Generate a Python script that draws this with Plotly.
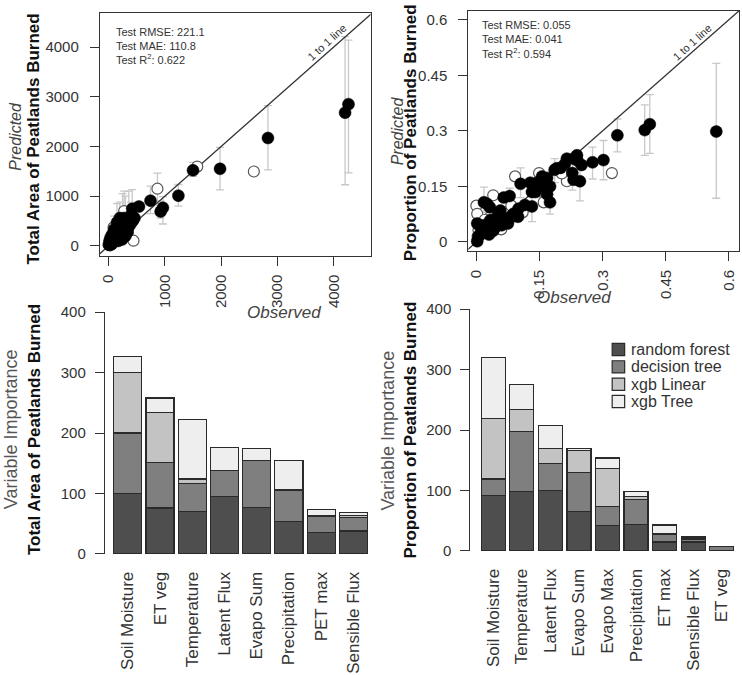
import math
import plotly.graph_objects as go

W, H = 742, 675
FONT = "Liberation Sans, Arial, sans-serif"
TXT = "#333333"

def px(x):
    return x / W

def py(y):
    return 1 - y / H

# ---------------- data: total area (top-left) ----------------
tl_fill_obs = [4200, 4260, 2830, 1980, 1500, 1240, 965, 925, 745, 540, 420,
               10, 30, 50, 60, 80, 90, 110, 120, 140, 150, 170, 180, 200, 210, 230,
               250, 260, 280, 300, 320, 340, 360, 380, 400, 430, 460, 200, 150, 100,
               70, 40, 20, 240, 300, 350]
tl_fill_pred = [2680, 2850, 2170, 1550, 1520, 1010, 765, 690, 910, 790, 745,
                20, 60, 120, 40, 180, 90, 250, 140, 200, 320, 100, 260, 380, 170, 300,
                450, 220, 560, 350, 470, 280, 520, 420, 610, 500, 560, 560, 470, 330,
                240, 180, 110, 130, 200, 380]
tl_open_obs = [0, 10, 30, 89, 165, 277, 443, 868, 1575, 2580, 60, 200]
tl_open_pred = [25, 60, 10, 372, 418, 700, 104, 1150, 1595, 1496, 150, 290]
tl_err_obs = [4200, 4260, 2830, 1980, 1500, 1240, 965, 925, 745, 868, 420, 277, 300, 200,
              150, 250, 360, 100, 400]
tl_err_pred = [2680, 2850, 2170, 1550, 1520, 1010, 765, 690, 910, 1150, 745, 700, 560, 560,
               470, 450, 520, 330, 610]
tl_err_lo = [1230, 1470, 1530, 1125, 1400, 800, 440, 560, 650, 900, 500, 450, 350, 400,
             250, 300, 380, 200, 420]
tl_err_hi = [4210, 4140, 2820, 1980, 1680, 1235, 990, 900, 1200, 1465, 1130, 1100, 1000, 880,
             850, 1050, 1100, 600, 880]
tl_stats = ["Test RMSE: 221.1", "Test MAE: 110.8", "Test R<sup>2</sup>: 0.622"]
tl_ticks = [0, 1000, 2000, 3000, 4000]

# ---------------- data: proportion (top-right) ----------------
tr_fill_obs = [0.570, 0.400, 0.412, 0.335, 0.302, 0.276, 0.239, 0.231, 0.250, 0.246, 0.231,
               0.228, 0.191, 0.186, 0.168, 0.156, 0.144, 0.168, 0.175, 0.128, 0.132, 0.132,
               0.105, 0.079, 0.065, 0.018, 0.025, 0.032, 0.002, 0.006, 0.002, 0.063, 0.099,
               0.081, 0.088, 0.069, 0.057, 0.049, 0.033, 0.021, 0.017, 0.045, 0.040, 0.060,
               0.075, 0.090, 0.100, 0.115, 0.140, 0.150, 0.160, 0.175, 0.200, 0.210, 0.215,
               0.240, 0.010, 0.005, 0.030]
tr_fill_pred = [0.298, 0.302, 0.318, 0.288, 0.221, 0.215, 0.234, 0.225, 0.208, 0.164, 0.168,
                0.186, 0.199, 0.195, 0.173, 0.177, 0.160, 0.129, 0.107, 0.160, 0.135, 0.096,
                0.157, 0.124, 0.120, 0.107, 0.103, 0.094, 0.050, 0.046, 0.002, 0.059, 0.068,
                0.068, 0.076, 0.059, 0.085, 0.068, 0.059, 0.046, 0.032, 0.040, 0.030, 0.045,
                0.050, 0.070, 0.090, 0.100, 0.135, 0.150, 0.165, 0.150, 0.200, 0.210, 0.225,
                0.220, 0.020, 0.015, 0.020]
tr_open_obs = [0.322, 0.215, 0.203, 0.149, 0.156, 0.160, 0.136, 0.092, 0.083, 0.040, 0.000,
               0.002, 0.059, 0.033, 0.057, 0.005, 0.010, 0.003, 0.020, 0.110]
tr_open_pred = [0.186, 0.164, 0.185, 0.186, 0.138, 0.107, 0.138, 0.177, 0.098, 0.126, 0.098,
                0.076, 0.034, 0.068, 0.046, 0.032, 0.025, 0.015, 0.060, 0.080]
tr_err_obs = [0.570, 0.400, 0.412, 0.335, 0.302, 0.276, 0.246, 0.228, 0.175, 0.132, 0.105,
              0.079, 0.018, 0.186, 0.150]
tr_err_pred = [0.298, 0.302, 0.318, 0.288, 0.221, 0.215, 0.164, 0.186, 0.107, 0.096, 0.157,
               0.124, 0.107, 0.195, 0.150]
tr_err_lo = [0.118, 0.234, 0.239, 0.243, 0.168, 0.170, 0.111, 0.140, 0.075, 0.055, 0.120,
             0.090, 0.080, 0.160, 0.120]
tr_err_hi = [0.482, 0.370, 0.398, 0.332, 0.274, 0.256, 0.200, 0.215, 0.140, 0.130, 0.200,
             0.145, 0.148, 0.225, 0.190]
tr_stats = ["Test RMSE: 0.055", "Test MAE: 0.041", "Test R<sup>2</sup>: 0.594"]
tr_ticks = [0, 0.15, 0.3, 0.45, 0.6]
tr_ticktext = ["0", "0.15", "0.3", "0.45", "0.6"]

# ---------------- data: variable importance ----------------
models = ["random forest", "decision tree", "xgb Linear", "xgb Tree"]
model_colors = ["#4e4e4e", "#7f7f7f", "#c3c3c3", "#eeeeee"]

bl_vars = ["Soil Moisture", "ET veg", "Temperature", "Latent Flux", "Evapo Sum",
           "Precipitation", "PET max", "Sensible Flux"]
bl_rf = [100, 76, 70, 95, 77, 53, 36, 38]
bl_dt = [100, 75, 46, 43, 78, 52, 26, 22]
bl_xl = [100, 83, 8, 0, 0, 2, 2, 3]
bl_xt = [27, 24, 99, 38, 20, 47, 9, 5]

br_vars = ["Soil Moisture", "Temperature", "Latent Flux", "Evapo Sum", "Evapo Max",
           "Precipitation", "ET max", "Sensible Flux", "ET veg"]
br_rf = [92, 98, 100, 66, 42, 44, 15, 15, 0]
br_dt = [27, 100, 45, 64, 32, 41, 13, 5, 8]
br_xl = [100, 36, 25, 36, 62, 5, 1, 2, 0]
br_xt = [101, 41, 38, 4, 18, 8, 14, 1, 0]
imp_ticks = [0, 100, 200, 300, 400]

# ---------------- figure ----------------
fig = go.Figure()

tl_xr = [-154, 4651]
tl_yr = [-196, 4686]
tr_xr = [-0.019, 0.624]
tr_yr = [-0.0237, 0.6237]

ERR = "#c8c8c8"


def scatter_panel(xa, ya, err_obs, err_pred, lo, hi, fo, fp, oo, op, xr):
    fig.add_trace(go.Scatter(
        x=err_obs, y=err_pred, mode="markers", xaxis=xa, yaxis=ya,
        marker=dict(size=2, color="rgba(0,0,0,0)"), showlegend=False, hoverinfo="skip",
        error_y=dict(type="data", symmetric=False,
                     array=[h - p for h, p in zip(hi, err_pred)],
                     arrayminus=[p - l for p, l in zip(err_pred, lo)],
                     color=ERR, thickness=1.3, width=4)))
    fig.add_trace(go.Scatter(
        x=[xr[0] - abs(xr[1]), xr[1] * 2], y=[xr[0] - abs(xr[1]), xr[1] * 2],
        mode="lines", xaxis=xa, yaxis=ya, line=dict(color="#333333", width=1.3),
        showlegend=False, hoverinfo="skip"))
    fig.add_trace(go.Scatter(
        x=oo, y=op, mode="markers", xaxis=xa, yaxis=ya, showlegend=False,
        marker=dict(size=11, color="white", line=dict(color="#555555", width=1.2))))
    fig.add_trace(go.Scatter(
        x=fo, y=fp, mode="markers", xaxis=xa, yaxis=ya, showlegend=False,
        marker=dict(size=12, color="black", line=dict(color="black", width=0.5))))


scatter_panel("x", "y", tl_err_obs, tl_err_pred, tl_err_lo, tl_err_hi,
              tl_fill_obs, tl_fill_pred, tl_open_obs, tl_open_pred, tl_xr)
scatter_panel("x2", "y2", tr_err_obs, tr_err_pred, tr_err_lo, tr_err_hi,
              tr_fill_obs, tr_fill_pred, tr_open_obs, tr_open_pred, tr_xr)

for i, (name, vals_bl, vals_br) in enumerate(zip(models, [bl_rf, bl_dt, bl_xl, bl_xt],
                                                  [br_rf, br_dt, br_xl, br_xt])):
    fig.add_trace(go.Bar(x=bl_vars, y=vals_bl, name=name, xaxis="x3", yaxis="y3",
                         width=0.87, showlegend=False,
                         marker=dict(color=model_colors[i], line=dict(color="#2a2a2a", width=1.2))))
    fig.add_trace(go.Bar(x=br_vars, y=vals_br, name=name, xaxis="x4", yaxis="y4",
                         width=0.84, showlegend=False,
                         marker=dict(color=model_colors[i], line=dict(color="#2a2a2a", width=1.2))))

axis_common = dict(showline=True, linecolor="#333333", linewidth=1.2, ticks="outside",
                   tickcolor="#333333", tickwidth=1.2, zeroline=False, showgrid=False,
                   tickfont=dict(family=FONT, size=15, color=TXT))

fig.update_layout(
    width=W, height=H, margin=dict(l=0, r=0, t=0, b=0),
    paper_bgcolor="white", plot_bgcolor="white", showlegend=False,
    barmode="stack", font=dict(family=FONT, color=TXT),
    xaxis=dict(domain=[px(99), px(370)], range=tl_xr, anchor="y", mirror=True,
               tickvals=tl_ticks, tickangle=-90, ticklen=9, ticklabelstandoff=3, **axis_common),
    yaxis=dict(domain=[py(253), py(4)], range=tl_yr, anchor="x", mirror=True,
               tickvals=tl_ticks, ticklen=9, ticklabelstandoff=8, **axis_common),
    xaxis2=dict(domain=[px(468), px(739)], range=tr_xr, anchor="y2", mirror=True,
                tickvals=tr_ticks, ticktext=tr_ticktext, tickangle=-90, ticklen=9,
                ticklabelstandoff=3, **axis_common),
    yaxis2=dict(domain=[py(248), py(2)], range=tr_yr, anchor="x2", mirror=True,
                tickvals=tr_ticks, ticktext=tr_ticktext, ticklen=9, ticklabelstandoff=8,
                **axis_common),
    xaxis3=dict(domain=[px(104), px(369)], range=[-0.71, 7.5], anchor="y3",
                showline=False, ticks="outside", ticklen=10, tickcolor="rgba(0,0,0,0)",
                tickangle=-90, showgrid=False, zeroline=False,
                tickfont=dict(family=FONT, size=17, color=TXT)),
    yaxis3=dict(domain=[py(559), py(311)], range=[0, 400], anchor="x3",
                tickvals=imp_ticks, ticklen=9, ticklabelstandoff=6, **axis_common),
    xaxis4=dict(domain=[px(470), px(736)], range=[-0.8, 8.5], anchor="y4",
                showline=False, ticks="outside", ticklen=10, tickcolor="rgba(0,0,0,0)",
                tickangle=-90, showgrid=False, zeroline=False,
                tickfont=dict(family=FONT, size=17, color=TXT)),
    yaxis4=dict(domain=[py(556), py(308)], range=[0, 400], anchor="x4",
                tickvals=imp_ticks, ticklen=9, ticklabelstandoff=6, **axis_common),
)

ann = []
shapes = []
# stats text
for i, s in enumerate(tl_stats):
    ann.append(dict(x=px(113), y=py([24, 37.5, 51][i]), xref="paper", yref="paper",
                    text=s, showarrow=False, xanchor="left", yanchor="middle",
                    font=dict(family=FONT, size=11, color=TXT)))
for i, s in enumerate(tr_stats):
    ann.append(dict(x=px(480), y=py([16, 30.5, 45][i]), xref="paper", yref="paper",
                    text=s, showarrow=False, xanchor="left", yanchor="middle",
                    font=dict(family=FONT, size=11, color=TXT)))

# 1 to 1 line labels
tl_ang = math.degrees(math.atan((249 / (tl_yr[1] - tl_yr[0])) / (271 / (tl_xr[1] - tl_xr[0]))))
tr_ang = math.degrees(math.atan((246 / (tr_yr[1] - tr_yr[0])) / (271 / (tr_xr[1] - tr_xr[0]))))
ann.append(dict(x=3880, y=4100, xref="x", yref="y", text="1 to 1 line", showarrow=False,
                textangle=-tl_ang, font=dict(family=FONT, size=11, color=TXT)))
ann.append(dict(x=0.513, y=0.541, xref="x2", yref="y2", text="1 to 1 line", showarrow=False,
                textangle=-tr_ang, font=dict(family=FONT, size=11, color=TXT)))

# axis titles
def vtitle(x, y, text, size, color):
    ann.append(dict(x=px(x), y=py(y), xref="paper", yref="paper", text=text, showarrow=False,
                    textangle=-90, xanchor="center", yanchor="middle",
                    font=dict(family=FONT, size=size, color=color)))

vtitle(15, 130, "<i>Predicted</i>", 16, "#444444")
vtitle(33, 133, "<b>Total Area of Peatlands Burned</b>", 17, "#111111")
vtitle(397, 125, "<i>Predicted</i>", 16, "#444444")
vtitle(410, 127, "<b>Proportion of Peatlands Burned</b>", 17, "#111111")
vtitle(10, 431, "Variable Importance", 18, "#555555")
vtitle(33, 431, "<b>Total Area of Peatlands Burned</b>", 17, "#111111")
vtitle(388, 432, "Variable Importance", 18, "#555555")
vtitle(410, 432, "<b>Proportion of Peatlands Burned</b>", 17, "#111111")

ann.append(dict(x=px(244), y=py(311), xref="paper", yref="paper", text="<i>Observed</i>",
                showarrow=False, font=dict(family=FONT, size=17, color="#444444")))
ann.append(dict(x=px(613), y=py(296), xref="paper", yref="paper", text="<i>Observed</i>",
                showarrow=False, font=dict(family=FONT, size=17, color="#444444")))

# legend (R-style, tight rows)
leg_x0, leg_y0, leg_dy, leg_sq = 612, 349.3, 17.8, 12.5
for i, (name, col) in enumerate(zip(models, model_colors)):
    cy = leg_y0 + i * leg_dy
    shapes.append(dict(type="rect", xref="paper", yref="paper",
                       x0=px(leg_x0), x1=px(leg_x0 + leg_sq),
                       y0=py(cy + leg_sq / 2), y1=py(cy - leg_sq / 2),
                       fillcolor=col, line=dict(color="#2a2a2a", width=1.2)))
    ann.append(dict(x=px(leg_x0 + leg_sq + 4), y=py(cy), xref="paper", yref="paper",
                    text=name, showarrow=False, xanchor="left", yanchor="middle",
                    font=dict(family=FONT, size=16, color=TXT)))

fig.update_layout(annotations=ann, shapes=shapes)
fig.write_html("out.html")
